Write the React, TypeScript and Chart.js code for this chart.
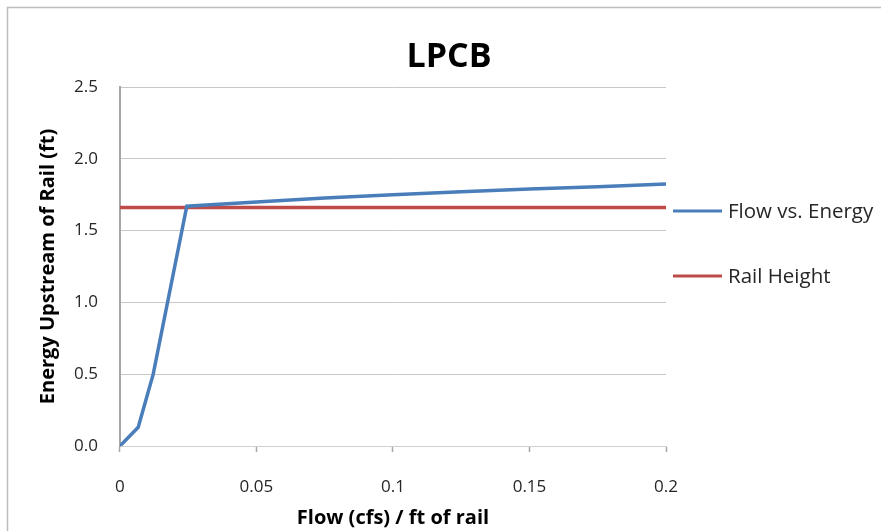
import React, { useEffect, useRef } from "react";
import { Chart, registerables } from "chart.js";

Chart.register(...registerables);

// Flow per foot of rail (cfs/ft) and upstream energy (ft)
const flowValues: number[] = [0, 0.0067, 0.0122, 0.0245, 0.05, 0.075, 0.1, 0.125, 0.15, 0.175, 0.2];
const energyValues: number[] = [0, 0.13, 0.5, 1.67, 1.7, 1.727, 1.75, 1.77, 1.79, 1.806, 1.825];

// Rail height (ft), constant across the flow range
const railFlow: number[] = [0, 0.2];
const railHeight: number[] = [1.66, 1.66];

const xTicks: number[] = [0, 0.05, 0.1, 0.15, 0.2];
const yTicks: number[] = [0, 0.5, 1.0, 1.5, 2.0, 2.5];

const chartTitle = "LPCB";
const seriesNames: string[] = ["Flow vs. Energy", "Rail Height"];
const seriesColors: string[] = ["#4a7ebb", "#be4b48"];

const FONT = "'Open Sans', 'Liberation Sans', sans-serif";

const frameTitleLegend = {
  id: "frameTitleLegend",
  afterDraw(chart: any) {
    const ctx = chart.ctx as CanvasRenderingContext2D;
    const area = chart.chartArea;
    ctx.save();
    // outer frame (left and top edges)
    ctx.strokeStyle = "#bdbdbd";
    ctx.lineWidth = 1.5;
    ctx.beginPath();
    ctx.moveTo(7.5, chart.height);
    ctx.lineTo(7.5, 7.5);
    ctx.lineTo(chart.width, 7.5);
    ctx.stroke();

    // chart title
    ctx.fillStyle = "#000000";
    ctx.font = `bold 34px ${FONT}`;
    ctx.textAlign = "center";
    ctx.textBaseline = "alphabetic";
    ctx.fillText(chartTitle, 449, 67);

    // legend on the right
    const legendX = area.right + 7;
    const rows = [211, 276];
    ctx.font = `20.5px ${FONT}`;
    ctx.textBaseline = "middle";
    ctx.textAlign = "left";
    seriesNames.forEach((name, i) => {
      const y = rows[i];
      ctx.strokeStyle = seriesColors[i];
      ctx.lineWidth = 3;
      ctx.beginPath();
      ctx.moveTo(legendX, y);
      ctx.lineTo(legendX + 49, y);
      ctx.stroke();
      ctx.fillStyle = "#262626";
      ctx.fillText(name, legendX + 55, y + 1);
    });
    ctx.restore();
  },
};

export default function App() {
  const canvasRef = useRef<HTMLCanvasElement | null>(null);

  useEffect(() => {
    if (!canvasRef.current) return;
    const chart = new Chart(canvasRef.current, {
      type: "scatter",
      data: {
        datasets: [
          {
            label: seriesNames[0],
            data: flowValues.map((x, i) => ({ x, y: energyValues[i] })),
            showLine: true,
            borderColor: seriesColors[0],
            backgroundColor: seriesColors[0],
            borderWidth: 3.5,
            pointRadius: 0,
            tension: 0,
          },
          {
            label: seriesNames[1],
            data: railFlow.map((x, i) => ({ x, y: railHeight[i] })),
            showLine: true,
            borderColor: seriesColors[1],
            backgroundColor: seriesColors[1],
            borderWidth: 3.5,
            pointRadius: 0,
          },
        ],
      },
      options: {
        responsive: false,
        animation: false,
        layout: { padding: { left: 36, right: 215, top: 87, bottom: 0 } },
        plugins: {
          legend: { display: false },
          tooltip: { enabled: false },
          title: { display: false },
        },
        scales: {
          x: {
            type: "linear",
            min: 0,
            max: 0.2,
            afterBuildTicks: (axis: any) => {
              axis.ticks = xTicks.map((v) => ({ value: v }));
            },
            ticks: {
              color: "#262626",
              font: { family: FONT, size: 17, lineHeight: 1.2 },
              padding: 24.8,
              maxRotation: 0,
              callback: (v: any) => String(Number(v)),
            },
            grid: {
              drawOnChartArea: false,
              drawTicks: true,
              tickLength: 6,
              tickColor: "#a6a6a6",
              tickWidth: 1.5,
            },
            border: { color: "#d0d0d0", width: 1 },
            title: {
              display: true,
              text: "Flow (cfs) / ft of rail",
              color: "#000000",
              font: { family: FONT, size: 20, weight: "bold", lineHeight: 1.2 },
              padding: { top: -16, bottom: 1 },
            },
          },
          y: {
            type: "linear",
            min: 0,
            max: 2.5,
            afterBuildTicks: (axis: any) => {
              axis.ticks = yTicks.map((v) => ({ value: v }));
            },
            ticks: {
              color: "#262626",
              font: { family: FONT, size: 17, lineHeight: 1.2 },
              padding: 22,
              callback: (v: any) => Number(v).toFixed(1),
            },
            grid: {
              color: "#c8c8c8",
              lineWidth: 1,
              drawTicks: false,
            },
            border: { color: "#a6a6a6", width: 2 },
            title: {
              display: true,
              text: "Energy Upstream of Rail (ft)",
              color: "#000000",
              font: { family: FONT, size: 20, weight: "bold", lineHeight: 1.2 },
              padding: { top: 0, bottom: -8 },
            },
          },
        },
      },
      plugins: [frameTitleLegend],
    });
    return () => chart.destroy();
  }, []);

  return (
    <div style={{ position: "absolute", left: 0, top: 0, width: 881, height: 531, background: "#ffffff" }}>
      <canvas ref={canvasRef} width={881} height={531} style={{ width: 881, height: 531, display: "block" }} />
    </div>
  );
}
